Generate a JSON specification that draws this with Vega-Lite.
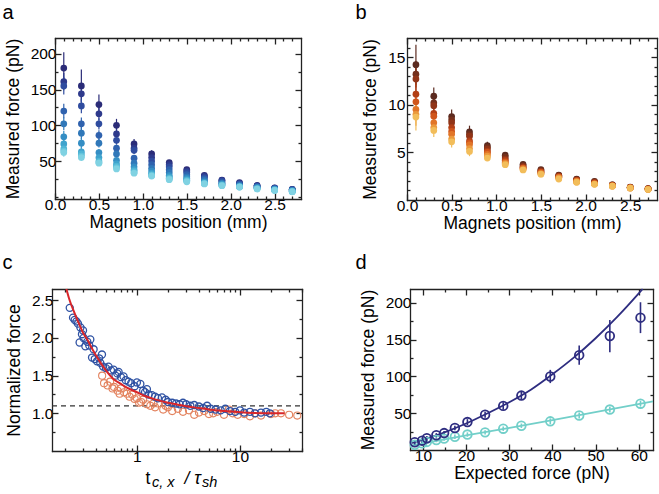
{
 "$schema": "https://vega.github.io/schema/vega-lite/v6.json",
 "autosize": {"type": "none"},
 "padding": 0,
 "width": 659,
 "height": 494,
 "datasets": {
  "a": [
   {"x":0.1,"s":1,"v":180,"e":22},{"x":0.1,"s":2,"v":161,"e":12},{"x":0.1,"s":3,"v":155,"e":12},{"x":0.1,"s":4,"v":120,"e":10},{"x":0.1,"s":5,"v":102,"e":9},{"x":0.1,"s":6,"v":84,"e":8},{"x":0.1,"s":7,"v":74,"e":7},{"x":0.1,"s":8,"v":67,"e":6},{"x":0.1,"s":9,"v":64,"e":6},{"x":0.1,"s":10,"v":62,"e":6},
   {"x":0.3,"s":1,"v":155,"e":23},{"x":0.3,"s":2,"v":144,"e":11},{"x":0.3,"s":3,"v":127,"e":10},{"x":0.3,"s":4,"v":102,"e":9},{"x":0.3,"s":5,"v":89,"e":8},{"x":0.3,"s":6,"v":75,"e":7},{"x":0.3,"s":7,"v":63,"e":6},{"x":0.3,"s":8,"v":60,"e":5},{"x":0.3,"s":9,"v":57,"e":5},{"x":0.3,"s":10,"v":55,"e":5},
   {"x":0.5,"s":1,"v":129,"e":14},{"x":0.5,"s":2,"v":116,"e":9},{"x":0.5,"s":3,"v":102,"e":8},{"x":0.5,"s":4,"v":86,"e":7},{"x":0.5,"s":5,"v":75,"e":6},{"x":0.5,"s":6,"v":62,"e":5},{"x":0.5,"s":7,"v":55,"e":5},{"x":0.5,"s":8,"v":50,"e":4},{"x":0.5,"s":9,"v":48,"e":4},{"x":0.5,"s":10,"v":47,"e":4},
   {"x":0.7,"s":1,"v":100,"e":9},{"x":0.7,"s":2,"v":88,"e":7},{"x":0.7,"s":3,"v":79,"e":6},{"x":0.7,"s":4,"v":68,"e":5},{"x":0.7,"s":5,"v":60,"e":5},{"x":0.7,"s":6,"v":51,"e":4},{"x":0.7,"s":7,"v":46,"e":4},{"x":0.7,"s":8,"v":43,"e":3},{"x":0.7,"s":9,"v":41,"e":3},{"x":0.7,"s":10,"v":39,"e":3},
   {"x":0.9,"s":1,"v":74,"e":7},{"x":0.9,"s":2,"v":68,"e":5},{"x":0.9,"s":3,"v":65,"e":5},{"x":0.9,"s":4,"v":54,"e":4},{"x":0.9,"s":5,"v":47,"e":4},{"x":0.9,"s":6,"v":42,"e":3},{"x":0.9,"s":7,"v":38,"e":3},{"x":0.9,"s":8,"v":36,"e":3},{"x":0.9,"s":9,"v":34,"e":3},{"x":0.9,"s":10,"v":33,"e":3},
   {"x":1.1,"s":1,"v":60,"e":5},{"x":1.1,"s":2,"v":55,"e":4},{"x":1.1,"s":3,"v":50,"e":4},{"x":1.1,"s":4,"v":45,"e":3},{"x":1.1,"s":5,"v":40,"e":3},{"x":1.1,"s":6,"v":36,"e":3},{"x":1.1,"s":7,"v":33,"e":2},{"x":1.1,"s":8,"v":31,"e":2},{"x":1.1,"s":9,"v":30,"e":2},{"x":1.1,"s":10,"v":29,"e":2},
   {"x":1.3,"s":1,"v":48,"e":3},{"x":1.3,"s":2,"v":45,"e":3},{"x":1.3,"s":3,"v":42,"e":3},{"x":1.3,"s":4,"v":38,"e":2},{"x":1.3,"s":5,"v":34,"e":2},{"x":1.3,"s":6,"v":30,"e":2},{"x":1.3,"s":7,"v":28,"e":2},{"x":1.3,"s":8,"v":26,"e":2},{"x":1.3,"s":9,"v":25,"e":2},{"x":1.3,"s":10,"v":24,"e":2},
   {"x":1.5,"s":1,"v":38,"e":2},{"x":1.5,"s":2,"v":36,"e":2},{"x":1.5,"s":3,"v":34,"e":2},{"x":1.5,"s":4,"v":31,"e":2},{"x":1.5,"s":5,"v":28,"e":2},{"x":1.5,"s":6,"v":26,"e":2},{"x":1.5,"s":7,"v":24,"e":2},{"x":1.5,"s":8,"v":23,"e":2},{"x":1.5,"s":9,"v":22,"e":2},{"x":1.5,"s":10,"v":21,"e":2},
   {"x":1.7,"s":1,"v":30,"e":2},{"x":1.7,"s":2,"v":29,"e":2},{"x":1.7,"s":3,"v":27,"e":2},{"x":1.7,"s":4,"v":25,"e":2},{"x":1.7,"s":5,"v":23,"e":2},{"x":1.7,"s":6,"v":21,"e":2},{"x":1.7,"s":7,"v":20,"e":2},{"x":1.7,"s":8,"v":19,"e":2},{"x":1.7,"s":9,"v":18.5,"e":2},{"x":1.7,"s":10,"v":18,"e":2},
   {"x":1.9,"s":1,"v":23.5,"e":1.5},{"x":1.9,"s":2,"v":23,"e":1.5},{"x":1.9,"s":3,"v":22,"e":1.5},{"x":1.9,"s":4,"v":20,"e":1.5},{"x":1.9,"s":5,"v":19,"e":1.5},{"x":1.9,"s":6,"v":18,"e":1.5},{"x":1.9,"s":7,"v":17,"e":1.5},{"x":1.9,"s":8,"v":16.5,"e":1.5},{"x":1.9,"s":9,"v":16,"e":1.5},{"x":1.9,"s":10,"v":15.5,"e":1.5},
   {"x":2.1,"s":1,"v":20,"e":1},{"x":2.1,"s":2,"v":19,"e":1},{"x":2.1,"s":3,"v":18,"e":1},{"x":2.1,"s":4,"v":17,"e":1},{"x":2.1,"s":5,"v":16,"e":1},{"x":2.1,"s":6,"v":15,"e":1},{"x":2.1,"s":7,"v":14.5,"e":1},{"x":2.1,"s":8,"v":14,"e":1},{"x":2.1,"s":9,"v":13.8,"e":1},{"x":2.1,"s":10,"v":13.6,"e":1},
   {"x":2.3,"s":1,"v":16,"e":1},{"x":2.3,"s":2,"v":15.5,"e":1},{"x":2.3,"s":3,"v":15,"e":1},{"x":2.3,"s":4,"v":14,"e":1},{"x":2.3,"s":5,"v":13.5,"e":1},{"x":2.3,"s":6,"v":13,"e":1},{"x":2.3,"s":7,"v":12,"e":1},{"x":2.3,"s":8,"v":11.5,"e":1},{"x":2.3,"s":9,"v":11.2,"e":1},{"x":2.3,"s":10,"v":11,"e":1},
   {"x":2.5,"s":1,"v":12.7,"e":1},{"x":2.5,"s":2,"v":12.3,"e":1},{"x":2.5,"s":3,"v":12,"e":1},{"x":2.5,"s":4,"v":11.5,"e":1},{"x":2.5,"s":5,"v":11,"e":1},{"x":2.5,"s":6,"v":10.5,"e":1},{"x":2.5,"s":7,"v":10,"e":1},{"x":2.5,"s":8,"v":9.5,"e":1},{"x":2.5,"s":9,"v":9.2,"e":1},{"x":2.5,"s":10,"v":9,"e":1},
   {"x":2.7,"s":1,"v":10.5,"e":1},{"x":2.7,"s":2,"v":10.2,"e":1},{"x":2.7,"s":3,"v":10,"e":1},{"x":2.7,"s":4,"v":9.5,"e":1},{"x":2.7,"s":5,"v":9,"e":1},{"x":2.7,"s":6,"v":8.5,"e":1},{"x":2.7,"s":7,"v":8,"e":1},{"x":2.7,"s":8,"v":7.6,"e":1},{"x":2.7,"s":9,"v":7.3,"e":1},{"x":2.7,"s":10,"v":7,"e":1}
  ],
  "b": [
   {"x":0.1,"s":1,"v":14.2,"e":2.1},{"x":0.1,"s":2,"v":13.2,"e":1.4},{"x":0.1,"s":3,"v":12.7,"e":1.3},{"x":0.1,"s":4,"v":11.1,"e":1.2},{"x":0.1,"s":5,"v":10.3,"e":1.1},{"x":0.1,"s":6,"v":9.5,"e":1.1},{"x":0.1,"s":7,"v":9.0,"e":1.2},{"x":0.1,"s":8,"v":8.7,"e":1.4},
   {"x":0.3,"s":1,"v":10.9,"e":0.9},{"x":0.3,"s":2,"v":10.2,"e":0.7},{"x":0.3,"s":3,"v":9.9,"e":0.7},{"x":0.3,"s":4,"v":9.1,"e":0.6},{"x":0.3,"s":5,"v":8.8,"e":0.6},{"x":0.3,"s":6,"v":8.1,"e":0.6},{"x":0.3,"s":7,"v":7.6,"e":0.6},{"x":0.3,"s":8,"v":7.3,"e":0.7},
   {"x":0.5,"s":1,"v":8.75,"e":0.75},{"x":0.5,"s":2,"v":8.4,"e":0.6},{"x":0.5,"s":3,"v":8.1,"e":0.6},{"x":0.5,"s":4,"v":7.6,"e":0.5},{"x":0.5,"s":5,"v":7.2,"e":0.5},{"x":0.5,"s":6,"v":6.9,"e":0.5},{"x":0.5,"s":7,"v":6.4,"e":0.5},{"x":0.5,"s":8,"v":6.1,"e":0.6},
   {"x":0.7,"s":1,"v":7.15,"e":0.65},{"x":0.7,"s":2,"v":6.9,"e":0.5},{"x":0.7,"s":3,"v":6.7,"e":0.5},{"x":0.7,"s":4,"v":6.2,"e":0.4},{"x":0.7,"s":5,"v":6.0,"e":0.4},{"x":0.7,"s":6,"v":5.8,"e":0.4},{"x":0.7,"s":7,"v":5.4,"e":0.4},{"x":0.7,"s":8,"v":5.1,"e":0.5},
   {"x":0.9,"s":1,"v":5.7,"e":0.4},{"x":0.9,"s":2,"v":5.5,"e":0.35},{"x":0.9,"s":3,"v":5.35,"e":0.3},{"x":0.9,"s":4,"v":5.1,"e":0.3},{"x":0.9,"s":5,"v":5.0,"e":0.3},{"x":0.9,"s":6,"v":4.8,"e":0.3},{"x":0.9,"s":7,"v":4.6,"e":0.3},{"x":0.9,"s":8,"v":4.4,"e":0.3},
   {"x":1.1,"s":1,"v":4.7,"e":0.25},{"x":1.1,"s":2,"v":4.5,"e":0.25},{"x":1.1,"s":3,"v":4.3,"e":0.25},{"x":1.1,"s":4,"v":4.15,"e":0.25},{"x":1.1,"s":5,"v":4.0,"e":0.25},{"x":1.1,"s":6,"v":3.9,"e":0.25},{"x":1.1,"s":7,"v":3.8,"e":0.25},{"x":1.1,"s":8,"v":3.7,"e":0.25},
   {"x":1.3,"s":1,"v":3.75,"e":0.2},{"x":1.3,"s":2,"v":3.6,"e":0.2},{"x":1.3,"s":3,"v":3.5,"e":0.2},{"x":1.3,"s":4,"v":3.4,"e":0.2},{"x":1.3,"s":5,"v":3.35,"e":0.2},{"x":1.3,"s":6,"v":3.3,"e":0.2},{"x":1.3,"s":7,"v":3.2,"e":0.2},{"x":1.3,"s":8,"v":3.15,"e":0.2},
   {"x":1.5,"s":1,"v":3.2,"e":0.15},{"x":1.5,"s":2,"v":3.1,"e":0.15},{"x":1.5,"s":3,"v":3.0,"e":0.15},{"x":1.5,"s":4,"v":2.95,"e":0.15},{"x":1.5,"s":5,"v":2.9,"e":0.15},{"x":1.5,"s":6,"v":2.8,"e":0.15},{"x":1.5,"s":7,"v":2.75,"e":0.15},{"x":1.5,"s":8,"v":2.7,"e":0.15},
   {"x":1.7,"s":1,"v":2.6,"e":0.12},{"x":1.7,"s":2,"v":2.55,"e":0.12},{"x":1.7,"s":3,"v":2.5,"e":0.12},{"x":1.7,"s":4,"v":2.45,"e":0.12},{"x":1.7,"s":5,"v":2.4,"e":0.12},{"x":1.7,"s":6,"v":2.35,"e":0.12},{"x":1.7,"s":7,"v":2.3,"e":0.12},{"x":1.7,"s":8,"v":2.2,"e":0.12},
   {"x":1.9,"s":1,"v":2.2,"e":0.1},{"x":1.9,"s":2,"v":2.15,"e":0.1},{"x":1.9,"s":3,"v":2.1,"e":0.1},{"x":1.9,"s":4,"v":2.05,"e":0.1},{"x":1.9,"s":5,"v":2.0,"e":0.1},{"x":1.9,"s":6,"v":1.95,"e":0.1},{"x":1.9,"s":7,"v":1.9,"e":0.1},{"x":1.9,"s":8,"v":1.85,"e":0.1},
   {"x":2.1,"s":1,"v":1.95,"e":0.1},{"x":2.1,"s":2,"v":1.9,"e":0.1},{"x":2.1,"s":3,"v":1.85,"e":0.1},{"x":2.1,"s":4,"v":1.8,"e":0.1},{"x":2.1,"s":5,"v":1.75,"e":0.1},{"x":2.1,"s":6,"v":1.7,"e":0.1},{"x":2.1,"s":7,"v":1.68,"e":0.1},{"x":2.1,"s":8,"v":1.65,"e":0.1},
   {"x":2.3,"s":1,"v":1.6,"e":0.1},{"x":2.3,"s":2,"v":1.58,"e":0.1},{"x":2.3,"s":3,"v":1.55,"e":0.1},{"x":2.3,"s":4,"v":1.52,"e":0.1},{"x":2.3,"s":5,"v":1.5,"e":0.1},{"x":2.3,"s":6,"v":1.48,"e":0.1},{"x":2.3,"s":7,"v":1.46,"e":0.1},{"x":2.3,"s":8,"v":1.45,"e":0.1},
   {"x":2.5,"s":1,"v":1.35,"e":0.1},{"x":2.5,"s":2,"v":1.33,"e":0.1},{"x":2.5,"s":3,"v":1.31,"e":0.1},{"x":2.5,"s":4,"v":1.3,"e":0.1},{"x":2.5,"s":5,"v":1.28,"e":0.1},{"x":2.5,"s":6,"v":1.27,"e":0.1},{"x":2.5,"s":7,"v":1.26,"e":0.1},{"x":2.5,"s":8,"v":1.25,"e":0.1},
   {"x":2.7,"s":1,"v":1.2,"e":0.1},{"x":2.7,"s":2,"v":1.18,"e":0.1},{"x":2.7,"s":3,"v":1.17,"e":0.1},{"x":2.7,"s":4,"v":1.16,"e":0.1},{"x":2.7,"s":5,"v":1.15,"e":0.1},{"x":2.7,"s":6,"v":1.13,"e":0.1},{"x":2.7,"s":7,"v":1.12,"e":0.1},{"x":2.7,"s":8,"v":1.1,"e":0.1}
  ],
  "cb": [
   {"t":0.223,"y":2.40},{"t":0.24,"y":2.27},{"t":0.249,"y":2.24},{"t":0.259,"y":2.22},{"t":0.268,"y":2.19},{"t":0.283,"y":2.14},{"t":0.293,"y":2.05},{"t":0.3,"y":2.10},{"t":0.304,"y":2.00},{"t":0.278,"y":1.94},
   {"t":0.316,"y":1.89},{"t":0.353,"y":1.98},{"t":0.33,"y":1.95},{"t":0.345,"y":1.90},{"t":0.38,"y":1.85},{"t":0.367,"y":1.74},{"t":0.39,"y":1.72},{"t":0.41,"y":1.69},{"t":0.43,"y":1.73},{"t":0.458,"y":1.78},
   {"t":0.441,"y":1.67},{"t":0.47,"y":1.62},{"t":0.5,"y":1.60},{"t":0.53,"y":1.62},{"t":0.56,"y":1.57},{"t":0.594,"y":1.58},{"t":0.62,"y":1.50},{"t":0.645,"y":1.53},{"t":0.664,"y":1.55},{"t":0.7,"y":1.48},
   {"t":0.742,"y":1.49},{"t":0.78,"y":1.44},{"t":0.83,"y":1.42},{"t":0.88,"y":1.40},{"t":0.95,"y":1.36},{"t":1.0,"y":1.41},{"t":1.08,"y":1.39},{"t":1.15,"y":1.30},{"t":1.2,"y":1.28},{"t":1.25,"y":1.32},
   {"t":1.3,"y":1.25},{"t":1.4,"y":1.24},{"t":1.5,"y":1.22},{"t":1.6,"y":1.20},{"t":1.75,"y":1.21},{"t":1.9,"y":1.18},{"t":2.0,"y":1.15},{"t":2.2,"y":1.14},{"t":2.4,"y":1.13},{"t":2.6,"y":1.12},
   {"t":2.8,"y":1.14},{"t":3.0,"y":1.12},{"t":3.3,"y":1.10},{"t":3.6,"y":1.11},{"t":4.0,"y":1.09},{"t":4.4,"y":1.07},{"t":4.8,"y":1.10},{"t":5.2,"y":1.06},{"t":5.8,"y":1.05},{"t":6.5,"y":1.04},
   {"t":7.2,"y":1.06},{"t":8.0,"y":1.03},{"t":9.0,"y":1.02},{"t":10,"y":1.04},{"t":11,"y":1.01},{"t":12.5,"y":1.02},{"t":14,"y":1.00},{"t":16,"y":1.01},{"t":18,"y":1.02},{"t":19.5,"y":1.00}
  ],
  "co": [
   {"t":0.46,"y":1.50},{"t":0.48,"y":1.40},{"t":0.52,"y":1.37},{"t":0.55,"y":1.42},{"t":0.58,"y":1.33},{"t":0.6,"y":1.35},{"t":0.65,"y":1.30},{"t":0.68,"y":1.26},{"t":0.7,"y":1.33},{"t":0.75,"y":1.28},
   {"t":0.8,"y":1.26},{"t":0.85,"y":1.22},{"t":0.9,"y":1.25},{"t":0.95,"y":1.19},{"t":1.0,"y":1.20},{"t":1.05,"y":1.14},{"t":1.1,"y":1.15},{"t":1.15,"y":1.18},{"t":1.25,"y":1.12},{"t":1.35,"y":1.10},
   {"t":1.45,"y":1.13},{"t":1.5,"y":1.08},{"t":1.6,"y":1.13},{"t":1.8,"y":1.05},{"t":1.9,"y":1.10},{"t":2.0,"y":1.08},{"t":2.2,"y":1.03},{"t":2.5,"y":1.06},{"t":2.8,"y":1.02},{"t":3.2,"y":1.04},
   {"t":3.6,"y":0.98},{"t":4.0,"y":1.01},{"t":4.5,"y":1.03},{"t":5.0,"y":0.99},{"t":5.5,"y":1.00},{"t":6.0,"y":1.02},{"t":7.0,"y":0.98},{"t":7.8,"y":1.05},{"t":8.5,"y":1.00},{"t":9.5,"y":0.98},
   {"t":11,"y":0.99},{"t":12.5,"y":0.96},{"t":14,"y":1.00},{"t":16,"y":0.97},{"t":20,"y":0.99},{"t":22,"y":1.00},{"t":25,"y":1.00},{"t":30,"y":0.98},{"t":36,"y":0.97}
  ],
  "cl": [
   {"t":0.207,"y":2.65},{"t":0.22,"y":2.52},{"t":0.25,"y":2.32},{"t":0.28,"y":2.16},{"t":0.3,"y":2.07},{"t":0.33,"y":1.98},{"t":0.37,"y":1.85},{"t":0.4,"y":1.77},{"t":0.45,"y":1.66},{"t":0.5,"y":1.57},
   {"t":0.55,"y":1.50},{"t":0.6,"y":1.45},{"t":0.7,"y":1.39},{"t":0.8,"y":1.34},{"t":1.0,"y":1.28},{"t":1.2,"y":1.23},{"t":1.5,"y":1.185},{"t":2.0,"y":1.14},{"t":2.5,"y":1.115},{"t":3.0,"y":1.095},
   {"t":4.0,"y":1.07},{"t":5.0,"y":1.05},{"t":7.0,"y":1.03},{"t":10,"y":1.015},{"t":14,"y":1.005},{"t":20,"y":1.0},{"t":27,"y":1.0}
  ],
  "dn": [
   {"x":8.1,"v":10.5,"e":3},{"x":9.8,"v":12.7,"e":3},{"x":10.9,"v":16,"e":3},{"x":13.1,"v":20,"e":3},{"x":14.9,"v":23,"e":3},{"x":17.4,"v":30,"e":3},{"x":20.3,"v":38,"e":4},
   {"x":24.4,"v":48,"e":4},{"x":28.6,"v":60,"e":5},{"x":32.8,"v":74,"e":5},{"x":39.5,"v":100,"e":9},{"x":46.2,"v":129,"e":13},{"x":53.3,"v":155,"e":22},{"x":60.4,"v":180,"e":21}
  ],
  "dc": [
   {"x":8.1,"v":7,"e":3},{"x":9.8,"v":9,"e":3},{"x":10.9,"v":11,"e":3},{"x":13.1,"v":13.6,"e":3},{"x":14.9,"v":15.5,"e":3},{"x":17.4,"v":18,"e":3},{"x":20.3,"v":21,"e":3},
   {"x":24.4,"v":24,"e":3},{"x":28.6,"v":29,"e":3},{"x":32.8,"v":33,"e":3},{"x":39.5,"v":39,"e":4},{"x":46.2,"v":47,"e":4},{"x":53.3,"v":55,"e":4},{"x":60.4,"v":63,"e":4}
  ],
  "dln": [
   {"x":7.5,"v":9.5},{"x":10,"v":14},{"x":15,"v":24},{"x":20,"v":36},{"x":25,"v":50},{"x":30,"v":65},{"x":35,"v":82},{"x":40,"v":103},{"x":45,"v":126},{"x":50,"v":152},{"x":55,"v":181},{"x":60,"v":213},{"x":60.9,"v":219}
  ],
  "dlc": [
   {"x":7.5,"v":6.3},{"x":20,"v":19.8},{"x":40,"v":40.5},{"x":63.3,"v":66}
  ]
 },
 "layer": [
  {"data": {"name": "a"},
   "mark": {"type": "errorbar", "rule": {"strokeWidth": 1.2}},
   "encoding": {
    "x": {"field": "x", "type": "quantitative", "scale": {"domain": [0, 2.8], "range": [55, 301], "nice": false, "zero": false}, "axis": null},
    "y": {"field": "v", "type": "quantitative", "scale": {"domain": [-3, 222], "range": [199, 38], "nice": false, "zero": false}, "axis": null},
    "yError": {"field": "e"},
    "color": {"field": "s", "type": "nominal", "scale": {"domain": [1,2,3,4,5,6,7,8,9,10], "range": ["#2b2c78","#2e3a8c","#2f4c9f","#2f62ae","#3078b9","#358ec4","#3fa3cd","#4fb5d5","#64c4dc","#80d2e2"]}, "legend": null}
   }},
  {"data": {"name": "a"},
   "mark": {"type": "circle", "size": 45, "opacity": 1},
   "encoding": {
    "x": {"field": "x", "type": "quantitative", "scale": {"domain": [0, 2.8], "range": [55, 301], "nice": false, "zero": false},
          "axis": {"orient": "bottom", "offset": -295, "values": [0, 0.5, 1, 1.5, 2, 2.5], "format": ".1f", "tickSize": -6, "labelPadding": 4, "domain": true, "title": "Magnets position (mm)", "titlePadding": 1}},
    "y": {"field": "v", "type": "quantitative", "scale": {"domain": [-3, 222], "range": [199, 38], "nice": false, "zero": false},
          "axis": {"orient": "left", "offset": -55, "values": [50, 100, 150, 200], "tickSize": -6, "labelPadding": 5, "domain": true, "title": "Measured force (pN)", "titlePadding": 8}},
    "color": {"field": "s", "type": "nominal", "scale": {"domain": [1,2,3,4,5,6,7,8,9,10], "range": ["#2b2c78","#2e3a8c","#2f4c9f","#2f62ae","#3078b9","#358ec4","#3fa3cd","#4fb5d5","#64c4dc","#80d2e2"]}, "legend": null}
   }},
  {"data": {"name": "a"}, "transform": [{"filter": "datum.s == 1"}],
   "mark": {"type": "point", "opacity": 0},
   "encoding": {
    "x": {"field": "x", "type": "quantitative", "scale": {"domain": [0, 2.8], "range": [55, 301], "nice": false, "zero": false},
          "axis": {"orient": "top", "offset": -38, "values": [0, 0.5, 1, 1.5, 2, 2.5], "tickSize": -6, "labels": false, "domain": true, "title": "a", "titleX": 2, "titleY": -20, "titleAlign": "left", "titleAnchor": "start", "titleBaseline": "alphabetic", "titleFontSize": 20}},
    "y": {"field": "v", "type": "quantitative", "scale": {"domain": [-3, 222], "range": [199, 38], "nice": false, "zero": false},
          "axis": {"orient": "right", "offset": -358, "values": [50, 100, 150, 200], "tickSize": -6, "labels": false, "domain": true, "title": null}}
   }},
  {"data": {"name": "a"}, "transform": [{"filter": "datum.s == 1"}],
   "mark": {"type": "point", "opacity": 0},
   "encoding": {
    "x": {"field": "x", "type": "quantitative", "scale": {"domain": [0, 2.8], "range": [55, 301], "nice": false, "zero": false},
          "axis": {"orient": "bottom", "offset": -295, "values": [0.1,0.2,0.3,0.4,0.6,0.7,0.8,0.9,1.1,1.2,1.3,1.4,1.6,1.7,1.8,1.9,2.1,2.2,2.3,2.4,2.6,2.7], "tickSize": -3, "labels": false, "title": null}},
    "y": {"field": "v", "type": "quantitative", "scale": {"domain": [-3, 222], "range": [199, 38], "nice": false, "zero": false},
          "axis": {"orient": "left", "offset": -55, "values": [0, 25, 75, 125, 175], "tickSize": -3, "labels": false, "title": null}}
   }},
  {"data": {"name": "a"}, "transform": [{"filter": "datum.s == 1"}],
   "mark": {"type": "point", "opacity": 0},
   "encoding": {
    "x": {"field": "x", "type": "quantitative", "scale": {"domain": [0, 2.8], "range": [55, 301], "nice": false, "zero": false},
          "axis": {"orient": "top", "offset": -38, "values": [0.1,0.2,0.3,0.4,0.6,0.7,0.8,0.9,1.1,1.2,1.3,1.4,1.6,1.7,1.8,1.9,2.1,2.2,2.3,2.4,2.6,2.7], "tickSize": -3, "labels": false, "title": null}},
    "y": {"field": "v", "type": "quantitative", "scale": {"domain": [-3, 222], "range": [199, 38], "nice": false, "zero": false},
          "axis": {"orient": "right", "offset": -358, "values": [0, 25, 75, 125, 175], "tickSize": -3, "labels": false, "title": null}}
   }},

  {"data": {"name": "b"},
   "mark": {"type": "errorbar", "rule": {"strokeWidth": 1.2}},
   "encoding": {
    "x": {"field": "x", "type": "quantitative", "scale": {"domain": [0, 2.8], "range": [407, 657], "nice": false, "zero": false}, "axis": null},
    "y": {"field": "v", "type": "quantitative", "scale": {"domain": [0, 17], "range": [200, 38], "nice": false, "zero": false}, "axis": null},
    "yError": {"field": "e"},
    "color": {"field": "s", "type": "nominal", "scale": {"domain": [1,2,3,4,5,6,7,8], "range": ["#5c2b20","#74301c","#913518","#b34016","#d0561c","#e17528","#eb993c","#f2bd5a"]}, "legend": null}
   }},
  {"data": {"name": "b"},
   "mark": {"type": "circle", "size": 45, "opacity": 1},
   "encoding": {
    "x": {"field": "x", "type": "quantitative", "scale": {"domain": [0, 2.8], "range": [407, 657], "nice": false, "zero": false},
          "axis": {"orient": "bottom", "offset": -294, "values": [0, 0.5, 1, 1.5, 2, 2.5], "format": ".1f", "tickSize": -6, "labelPadding": 4, "domain": true, "title": "Magnets position (mm)", "titlePadding": 1}},
    "y": {"field": "v", "type": "quantitative", "scale": {"domain": [0, 17], "range": [200, 38], "nice": false, "zero": false},
          "axis": {"orient": "left", "offset": -407, "values": [5, 10, 15], "tickSize": -6, "labelPadding": 8, "domain": true, "title": "Measured force (pN)", "titlePadding": 8}},
    "color": {"field": "s", "type": "nominal", "scale": {"domain": [1,2,3,4,5,6,7,8], "range": ["#5c2b20","#74301c","#913518","#b34016","#d0561c","#e17528","#eb993c","#f2bd5a"]}, "legend": null}
   }},
  {"data": {"name": "b"}, "transform": [{"filter": "datum.s == 1"}],
   "mark": {"type": "point", "opacity": 0},
   "encoding": {
    "x": {"field": "x", "type": "quantitative", "scale": {"domain": [0, 2.8], "range": [407, 657], "nice": false, "zero": false},
          "axis": {"orient": "top", "offset": -38, "values": [0, 0.5, 1, 1.5, 2, 2.5], "tickSize": -6, "labels": false, "domain": true, "title": "b", "titleX": 355, "titleY": -20, "titleAlign": "left", "titleAnchor": "start", "titleBaseline": "alphabetic", "titleFontSize": 20}},
    "y": {"field": "v", "type": "quantitative", "scale": {"domain": [0, 17], "range": [200, 38], "nice": false, "zero": false},
          "axis": {"orient": "right", "offset": -2, "values": [5, 10, 15], "tickSize": -6, "labels": false, "domain": true, "title": null}}
   }},
  {"data": {"name": "b"}, "transform": [{"filter": "datum.s == 1"}],
   "mark": {"type": "point", "opacity": 0},
   "encoding": {
    "x": {"field": "x", "type": "quantitative", "scale": {"domain": [0, 2.8], "range": [407, 657], "nice": false, "zero": false},
          "axis": {"orient": "bottom", "offset": -294, "values": [0.1,0.2,0.3,0.4,0.6,0.7,0.8,0.9,1.1,1.2,1.3,1.4,1.6,1.7,1.8,1.9,2.1,2.2,2.3,2.4,2.6,2.7], "tickSize": -3, "labels": false, "title": null}},
    "y": {"field": "v", "type": "quantitative", "scale": {"domain": [0, 17], "range": [200, 38], "nice": false, "zero": false},
          "axis": {"orient": "left", "offset": -407, "values": [1,2,3,4,6,7,8,9,11,12,13,14,16], "tickSize": -3, "labels": false, "title": null}}
   }},
  {"data": {"name": "b"}, "transform": [{"filter": "datum.s == 1"}],
   "mark": {"type": "point", "opacity": 0},
   "encoding": {
    "x": {"field": "x", "type": "quantitative", "scale": {"domain": [0, 2.8], "range": [407, 657], "nice": false, "zero": false},
          "axis": {"orient": "top", "offset": -38, "values": [0.1,0.2,0.3,0.4,0.6,0.7,0.8,0.9,1.1,1.2,1.3,1.4,1.6,1.7,1.8,1.9,2.1,2.2,2.3,2.4,2.6,2.7], "tickSize": -3, "labels": false, "title": null}},
    "y": {"field": "v", "type": "quantitative", "scale": {"domain": [0, 17], "range": [200, 38], "nice": false, "zero": false},
          "axis": {"orient": "right", "offset": -2, "values": [1,2,3,4,6,7,8,9,11,12,13,14,16], "tickSize": -3, "labels": false, "title": null}}
   }},

  {"data": {"values": [{}]},
   "mark": {"type": "rule", "strokeDash": [5, 4], "color": "#333333", "strokeWidth": 1.3},
   "encoding": {
    "x": {"datum": 0.15, "type": "quantitative", "scale": {"type": "log", "domain": [0.15, 40], "range": [52, 302], "nice": false}, "axis": null},
    "x2": {"datum": 40},
    "y": {"datum": 1.1, "type": "quantitative", "scale": {"domain": [0.5, 2.65], "range": [451, 289], "nice": false, "zero": false}, "axis": null}
   }},
  {"data": {"name": "co"},
   "mark": {"type": "point", "shape": "circle", "filled": false, "size": 50, "strokeWidth": 1.1, "color": "#e3835f", "opacity": 1},
   "encoding": {
    "x": {"field": "t", "type": "quantitative", "scale": {"type": "log", "domain": [0.15, 40], "range": [52, 302], "nice": false}, "axis": null},
    "y": {"field": "y", "type": "quantitative", "scale": {"domain": [0.5, 2.65], "range": [451, 289], "nice": false, "zero": false}, "axis": null}
   }},
  {"data": {"name": "cb"},
   "mark": {"type": "point", "shape": "circle", "filled": false, "size": 50, "strokeWidth": 1.3, "color": "#2f52a3", "opacity": 1},
   "encoding": {
    "x": {"field": "t", "type": "quantitative", "scale": {"type": "log", "domain": [0.15, 40], "range": [52, 302], "nice": false},
          "axis": {"orient": "bottom", "offset": -43, "values": [1, 10], "labelExpr": "datum.value == 1 ? '1' : '10'", "tickSize": -6, "labelPadding": 4, "domain": true, "title": "t", "titleX": 145, "titleY": 32, "titleAlign": "left", "titleAnchor": "start", "titleBaseline": "alphabetic"}},
    "y": {"field": "y", "type": "quantitative", "scale": {"domain": [0.5, 2.65], "range": [451, 289], "nice": false, "zero": false},
          "axis": {"orient": "left", "offset": -52, "values": [1, 1.5, 2, 2.5], "format": ".1f", "tickSize": -6, "labelPadding": 5, "domain": true, "title": "Normalized force", "titlePadding": 8}}
   }},
  {"data": {"name": "cl"},
   "mark": {"type": "line", "color": "#d8262a", "strokeWidth": 2, "interpolate": "monotone"},
   "encoding": {
    "x": {"field": "t", "type": "quantitative", "scale": {"type": "log", "domain": [0.15, 40], "range": [52, 302], "nice": false}, "axis": null},
    "y": {"field": "y", "type": "quantitative", "scale": {"domain": [0.5, 2.65], "range": [451, 289], "nice": false, "zero": false}, "axis": null}
   }},
  {"data": {"name": "cl"},
   "mark": {"type": "point", "opacity": 0},
   "encoding": {
    "x": {"field": "t", "type": "quantitative", "scale": {"type": "log", "domain": [0.15, 40], "range": [52, 302], "nice": false},
          "axis": {"orient": "top", "offset": -289, "values": [1, 10], "tickSize": -6, "labels": false, "domain": true, "title": "c", "titleX": 2, "titleY": -21, "titleAlign": "left", "titleAnchor": "start", "titleBaseline": "alphabetic", "titleFontSize": 20}},
    "y": {"field": "y", "type": "quantitative", "scale": {"domain": [0.5, 2.65], "range": [451, 289], "nice": false, "zero": false},
          "axis": {"orient": "right", "offset": -357, "values": [1, 1.5, 2, 2.5], "tickSize": -6, "labels": false, "domain": true, "title": null}}
   }},
  {"data": {"name": "cl"},
   "mark": {"type": "point", "opacity": 0},
   "encoding": {
    "x": {"field": "t", "type": "quantitative", "scale": {"type": "log", "domain": [0.15, 40], "range": [52, 302], "nice": false},
          "axis": {"orient": "bottom", "offset": -43, "values": [0.2,0.3,0.4,0.5,0.6,0.7,0.8,0.9,2,3,4,5,6,7,8,9,20,30,40], "tickSize": -3, "labels": false, "title": "c, x", "titleX": 151.5, "titleY": 35.5, "titleAlign": "left", "titleAnchor": "start", "titleBaseline": "alphabetic", "titleFontStyle": "italic", "titleFontSize": 14.5}},
    "y": {"field": "y", "type": "quantitative", "scale": {"domain": [0.5, 2.65], "range": [451, 289], "nice": false, "zero": false},
          "axis": {"orient": "left", "offset": -52, "values": [0.75, 1.25, 1.75, 2.25], "tickSize": -3, "labels": false, "title": null}}
   }},
  {"data": {"name": "cl"},
   "mark": {"type": "point", "opacity": 0},
   "encoding": {
    "x": {"field": "t", "type": "quantitative", "scale": {"type": "log", "domain": [0.15, 40], "range": [52, 302], "nice": false},
          "axis": {"orient": "top", "offset": -289, "values": [0.2,0.3,0.4,0.5,0.6,0.7,0.8,0.9,2,3,4,5,6,7,8,9,20,30,40], "tickSize": -3, "labels": false, "title": null}},
    "y": {"field": "y", "type": "quantitative", "scale": {"domain": [0.5, 2.65], "range": [451, 289], "nice": false, "zero": false},
          "axis": {"orient": "right", "offset": -357, "values": [0.75, 1.25, 1.75, 2.25], "tickSize": -3, "labels": false, "title": null}}
   }},
  {"data": {"name": "cl"},
   "mark": {"type": "point", "opacity": 0},
   "encoding": {
    "x": {"field": "t", "type": "quantitative", "scale": {"type": "log", "domain": [0.15, 40], "range": [52, 302], "nice": false},
          "axis": {"orient": "bottom", "offset": -43, "ticks": false, "labels": false, "title": "/ τ", "titleX": 184, "titleY": 32, "titleAlign": "left", "titleAnchor": "start", "titleBaseline": "alphabetic", "titleFontStyle": "italic"}},
    "y": {"field": "y", "type": "quantitative", "scale": {"domain": [0.5, 2.65], "range": [451, 289], "nice": false, "zero": false}, "axis": null}
   }},
  {"data": {"name": "cl"},
   "mark": {"type": "point", "opacity": 0},
   "encoding": {
    "x": {"field": "t", "type": "quantitative", "scale": {"type": "log", "domain": [0.15, 40], "range": [52, 302], "nice": false},
          "axis": {"orient": "bottom", "offset": -43, "ticks": false, "labels": false, "title": "sh", "titleX": 201.5, "titleY": 35.5, "titleAlign": "left", "titleAnchor": "start", "titleBaseline": "alphabetic", "titleFontStyle": "italic", "titleFontSize": 14.5}},
    "y": {"field": "y", "type": "quantitative", "scale": {"domain": [0.5, 2.65], "range": [451, 289], "nice": false, "zero": false}, "axis": null}
   }},

  {"data": {"name": "dlc"},
   "mark": {"type": "line", "color": "#72cfc9", "strokeWidth": 1.8, "interpolate": "monotone"},
   "encoding": {
    "x": {"field": "x", "type": "quantitative", "scale": {"domain": [7, 63.3], "range": [410, 653], "nice": false, "zero": false}, "axis": null},
    "y": {"field": "v", "type": "quantitative", "scale": {"domain": [0, 219], "range": [450, 289], "nice": false, "zero": false}, "axis": null}
   }},
  {"data": {"name": "dln"},
   "mark": {"type": "line", "color": "#2e2d80", "strokeWidth": 1.8, "interpolate": "monotone"},
   "encoding": {
    "x": {"field": "x", "type": "quantitative", "scale": {"domain": [7, 63.3], "range": [410, 653], "nice": false, "zero": false}, "axis": null},
    "y": {"field": "v", "type": "quantitative", "scale": {"domain": [0, 219], "range": [450, 289], "nice": false, "zero": false}, "axis": null}
   }},
  {"data": {"name": "dc"},
   "mark": {"type": "errorbar", "color": "#72cfc9", "rule": {"strokeWidth": 1.6}},
   "encoding": {
    "x": {"field": "x", "type": "quantitative", "scale": {"domain": [7, 63.3], "range": [410, 653], "nice": false, "zero": false}, "axis": null},
    "y": {"field": "v", "type": "quantitative", "scale": {"domain": [0, 219], "range": [450, 289], "nice": false, "zero": false}, "axis": null},
    "yError": {"field": "e"}
   }},
  {"data": {"name": "dn"},
   "mark": {"type": "errorbar", "color": "#2e2d80", "rule": {"strokeWidth": 1.6}},
   "encoding": {
    "x": {"field": "x", "type": "quantitative", "scale": {"domain": [7, 63.3], "range": [410, 653], "nice": false, "zero": false}, "axis": null},
    "y": {"field": "v", "type": "quantitative", "scale": {"domain": [0, 219], "range": [450, 289], "nice": false, "zero": false}, "axis": null},
    "yError": {"field": "e"}
   }},
  {"data": {"name": "dc"},
   "mark": {"type": "point", "shape": "circle", "filled": false, "size": 75, "strokeWidth": 1.8, "color": "#72cfc9", "opacity": 1},
   "encoding": {
    "x": {"field": "x", "type": "quantitative", "scale": {"domain": [7, 63.3], "range": [410, 653], "nice": false, "zero": false}, "axis": null},
    "y": {"field": "v", "type": "quantitative", "scale": {"domain": [0, 219], "range": [450, 289], "nice": false, "zero": false}, "axis": null}
   }},
  {"data": {"name": "dn"},
   "mark": {"type": "point", "shape": "circle", "filled": false, "size": 75, "strokeWidth": 1.8, "color": "#2e2d80", "opacity": 1},
   "encoding": {
    "x": {"field": "x", "type": "quantitative", "scale": {"domain": [7, 63.3], "range": [410, 653], "nice": false, "zero": false},
          "axis": {"orient": "bottom", "offset": -44, "values": [10, 20, 30, 40, 50, 60], "tickSize": -6, "labelPadding": 4, "domain": true, "title": "Expected force (pN)", "titlePadding": 1}},
    "y": {"field": "v", "type": "quantitative", "scale": {"domain": [0, 219], "range": [450, 289], "nice": false, "zero": false},
          "axis": {"orient": "left", "offset": -410, "values": [50, 100, 150, 200], "tickSize": -6, "labelPadding": 5, "domain": true, "title": "Measured force (pN)", "titlePadding": 8}}
   }},
  {"data": {"name": "dc"},
   "mark": {"type": "point", "opacity": 0},
   "encoding": {
    "x": {"field": "x", "type": "quantitative", "scale": {"domain": [7, 63.3], "range": [410, 653], "nice": false, "zero": false},
          "axis": {"orient": "top", "offset": -289, "values": [10, 20, 30, 40, 50, 60], "tickSize": -6, "labels": false, "domain": true, "title": "d", "titleX": 355, "titleY": -21, "titleAlign": "left", "titleAnchor": "start", "titleBaseline": "alphabetic", "titleFontSize": 20}},
    "y": {"field": "v", "type": "quantitative", "scale": {"domain": [0, 219], "range": [450, 289], "nice": false, "zero": false},
          "axis": {"orient": "right", "offset": -6, "values": [50, 100, 150, 200], "tickSize": -6, "labels": false, "domain": true, "title": null}}
   }},
  {"data": {"name": "dc"},
   "mark": {"type": "point", "opacity": 0},
   "encoding": {
    "x": {"field": "x", "type": "quantitative", "scale": {"domain": [7, 63.3], "range": [410, 653], "nice": false, "zero": false},
          "axis": {"orient": "bottom", "offset": -44, "values": [15, 25, 35, 45, 55], "tickSize": -3, "labels": false, "title": null}},
    "y": {"field": "v", "type": "quantitative", "scale": {"domain": [0, 219], "range": [450, 289], "nice": false, "zero": false},
          "axis": {"orient": "left", "offset": -410, "values": [25, 75, 125, 175], "tickSize": -3, "labels": false, "title": null}}
   }},
  {"data": {"name": "dc"},
   "mark": {"type": "point", "opacity": 0},
   "encoding": {
    "x": {"field": "x", "type": "quantitative", "scale": {"domain": [7, 63.3], "range": [410, 653], "nice": false, "zero": false},
          "axis": {"orient": "top", "offset": -289, "values": [15, 25, 35, 45, 55], "tickSize": -3, "labels": false, "title": null}},
    "y": {"field": "v", "type": "quantitative", "scale": {"domain": [0, 219], "range": [450, 289], "nice": false, "zero": false},
          "axis": {"orient": "right", "offset": -6, "values": [25, 75, 125, 175], "tickSize": -3, "labels": false, "title": null}}
   }}
 ],
 "resolve": {"scale": {"x": "independent", "y": "independent", "color": "independent"}, "axis": {"x": "independent", "y": "independent"}},
 "config": {
  "font": "Liberation Sans",
  "view": {"stroke": null},
  "axis": {"domain": false, "domainColor": "#222222", "domainWidth": 1.3, "domainCap": "square", "grid": false, "labelFont": "Liberation Sans", "labelFontSize": 15.5, "labelColor": "#000000", "titleFont": "Liberation Sans", "titleFontSize": 17.5, "titleFontWeight": "normal", "titleColor": "#000000", "tickColor": "#222222", "tickWidth": 1.3, "labelOverlap": false, "labelFlush": false, "labelBound": false}
 }
}
